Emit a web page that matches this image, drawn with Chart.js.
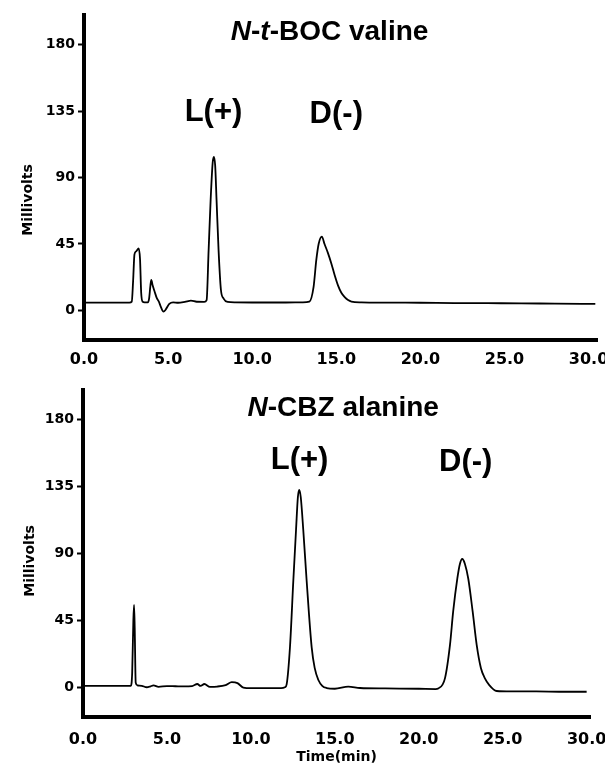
<!DOCTYPE html>
<html>
<head>
<meta charset="utf-8">
<script src="https://cdn.jsdelivr.net/npm/chart.js@4.4.1/dist/chart.umd.min.js"></script>
<style>
  html, body { margin: 0; padding: 0; background: #ffffff; }
  #wrap { position: relative; width: 605px; height: 768px; overflow: hidden; }
  .panel { position: absolute; left: 0; width: 605px; height: 384px; }
  #p1 { top: 0; }
  #p2 { top: 384px; }
</style>
</head>
<body>
<div id="wrap">
  <div class="panel" id="p1"><canvas id="c1" width="605" height="384"></canvas></div>
  <div class="panel" id="p2"><canvas id="c2" width="605" height="384"></canvas></div>
</div>
<script>
// ---------------- data ----------------
const xTicks = [0, 5, 10, 15, 20, 25, 30];
const yTicks = [0, 45, 90, 135, 180];

// N-t-BOC valine trace: retention time (min) and signal (mV)
const bocTime = [0.0, 1.0, 2.0, 2.7, 2.84, 2.92, 3.0, 3.1, 3.25, 3.33, 3.40, 3.48, 3.6, 3.8,
  3.87, 3.95, 4.0, 4.08, 4.2, 4.33, 4.45, 4.55, 4.73, 4.85, 5.07, 5.3, 5.6, 6.0, 6.36, 6.7,
  7.15, 7.29, 7.41, 7.53, 7.65, 7.72, 7.80, 7.88, 8.0, 8.14, 8.3, 8.54, 9.0, 10.0, 11.0, 12.0,
  13.0, 13.4, 13.65, 13.81, 13.95, 14.14, 14.3, 14.5, 14.7, 14.9, 15.1, 15.3, 15.5, 15.7, 15.9,
  16.5, 18.0, 20.0, 22.0, 24.0, 26.0, 28.0, 30.4];
const bocSignal = [5.3, 5.3, 5.3, 5.3, 6.0, 20, 38, 40, 42, 35, 12, 6, 5.5, 5.5,
  8, 17, 20.6, 17, 12.7, 8.3, 6, 3, -0.8, 0.5, 4.4, 5.5, 5.2, 5.8, 6.6, 5.9,
  5.8, 7, 41, 75, 100, 104, 98, 75, 41, 14, 8, 5.8, 5.5, 5.4, 5.4, 5.4,
  5.5, 6, 16, 34, 45, 50, 45, 39, 32, 24, 17, 12, 9, 7, 6,
  5.5, 5.3, 5.2, 5.0, 4.9, 4.8, 4.6, 4.4];

// N-CBZ alanine trace
const cbzTime = [0.0, 1.0, 2.0, 2.85, 2.93, 3.0, 3.04, 3.08, 3.14, 3.25, 3.5, 3.8, 4.0, 4.2,
  4.5, 5.0, 5.5, 6.0, 6.5, 6.81, 7.0, 7.23, 7.56, 8.0, 8.5, 8.86, 9.2, 9.55, 10.0, 11.0,
  11.8, 12.03, 12.13, 12.33, 12.53, 12.69, 12.8, 12.88, 12.97, 13.12, 13.32, 13.62, 13.8,
  14.02, 14.25, 14.51, 15.0, 15.8, 16.5, 18.0, 20.0, 21.0, 21.16, 21.56, 21.86, 22.05, 22.3,
  22.45, 22.59, 22.75, 22.95, 23.21, 23.45, 23.7, 23.94, 24.2, 24.64, 25.5, 27.0, 28.5, 30.0];
const cbzSignal = [1.0, 1.0, 1.0, 1.0, 10, 45, 55.4, 40, 3, 1.2, 1.0, 0, 0.5, 1.3,
  0.3, 0.8, 0.7, 0.6, 0.8, 2.2, 0.9, 2.2, 0.3, 0.5, 1.5, 3.4, 2.8, -0.2, -0.6, -0.6,
  -0.6, 0, 2, 27.3, 72.2, 106, 128, 132.8, 128, 106, 72, 27, 13,
  4.9, 1, -0.5, -1.0, 0.4, -0.5, -0.8, -1.0, -1.2, -0.8, 6, 28.5, 51, 73.4,
  83, 86.3, 83, 73, 51, 28.5, 13, 6, 1.5, -2.5, -2.8, -2.8, -3.0, -3.0];

// ---------------- helpers ----------------
Chart.defaults.font.family = '"DejaVu Sans", sans-serif';
Chart.defaults.color = '#000';

function pts(xs, ys) { return xs.map((v, i) => ({ x: v, y: ys[i] })); }

function makeTextPlugin(items) {
  return {
    id: 'textMarks',
    afterDraw(chart) {
      const ctx = chart.ctx;
      const xs = chart.scales.x, ys = chart.scales.y;
      items.forEach(item => {
        const px = item.px !== undefined ? item.px : xs.getPixelForValue(item.x);
        const py = ys.getPixelForValue(item.y);
        ctx.save();
        ctx.fillStyle = '#000';
        ctx.textBaseline = 'middle';
        ctx.textAlign = 'left';
        ctx.translate(px, py);
        if (item.rotate) ctx.rotate(item.rotate);
        const widths = [];
        let total = 0;
        item.segs.forEach(s => {
          ctx.font = (s.italic ? 'italic ' : '') + item.font;
          const w = ctx.measureText(s.t).width;
          widths.push(w);
          total += w;
        });
        let cx = -total / 2;
        item.segs.forEach((s, i) => {
          ctx.font = (s.italic ? 'italic ' : '') + item.font;
          ctx.fillText(s.t, cx, 0);
          cx += widths[i];
        });
        ctx.restore();
      });
    }
  };
}

function buildChart(canvasId, xs, ys, cfg) {
  return new Chart(document.getElementById(canvasId), {
    type: 'line',
    data: {
      datasets: [{
        data: pts(xs, ys),
        borderColor: '#000',
        borderWidth: 1.8,
        pointRadius: 0,
        fill: false,
        cubicInterpolationMode: 'monotone'
      }]
    },
    options: {
      responsive: false,
      animation: false,
      events: [],
      layout: { padding: { left: 0, right: cfg.padRight, top: cfg.padTop, bottom: 0 } },
      plugins: { legend: { display: false }, tooltip: { enabled: false } },
      scales: {
        x: {
          type: 'linear',
          min: 0,
          max: cfg.xMax,
          afterBuildTicks: s => { s.ticks = xTicks.map(v => ({ value: v })); },
          afterFit: s => { s.height = cfg.xHeight; s.paddingLeft = 0; s.paddingRight = 0; },
          grid: { display: false, drawTicks: false },
          border: { display: true, color: '#000', width: 4 },
          ticks: {
            padding: cfg.xLabelPad,
            maxRotation: 0,
            autoSkip: false,
            color: '#000',
            font: { family: '"DejaVu Sans"', weight: 'bold', size: 16 },
            callback: v => Number(v).toFixed(1)
          },
          title: cfg.xTitle ? {
            display: true,
            text: cfg.xTitle,
            color: '#000',
            font: { family: '"DejaVu Sans"', weight: 'bold', size: 14 },
            padding: { top: 0, bottom: 2 }
          } : { display: false }
        },
        y: {
          type: 'linear',
          min: -20,
          max: 200,
          afterBuildTicks: s => { s.ticks = yTicks.map(v => ({ value: v })); },
          afterFit: s => { s.width = cfg.yWidth; s.paddingTop = 0; s.paddingBottom = 0; },
          grid: { display: true, drawOnChartArea: false, drawTicks: true, tickLength: 6, tickWidth: 2, tickColor: '#000' },
          border: { display: true, color: '#000', width: 4 },
          ticks: {
            padding: 3,
            autoSkip: false,
            color: '#000',
            font: { family: '"DejaVu Sans"', weight: 'bold', size: 14 },
            callback: v => String(v)
          }
        }
      }
    },
    plugins: [makeTextPlugin(cfg.texts)]
  });
}

const titleFont = 'bold 28px "Liberation Sans", Arial, sans-serif';
const peakFont = 'bold 31px "Liberation Sans", Arial, sans-serif';
const axisFont = 'bold 14px "DejaVu Sans", sans-serif';

buildChart('c1', bocTime, bocSignal, {
  xMax: 30.5, padRight: 8, padTop: 15, xHeight: 44, yWidth: 84, xLabelPad: 10,
  texts: [
    { x: 14.6, y: 188.6, font: titleFont, segs: [{ t: 'N', italic: true }, { t: '-' }, { t: 't', italic: true }, { t: '-BOC valine' }] },
    { x: 7.7, y: 133.7, font: peakFont, segs: [{ t: 'L(+)' }] },
    { x: 15.0, y: 133.0, font: peakFont, segs: [{ t: 'D(-)' }] },
    { px: 28, y: 74.8, rotate: -Math.PI / 2, font: axisFont, segs: [{ t: 'Millivolts' }] }
  ]
});

buildChart('c2', cbzTime, cbzSignal, {
  xMax: 30.2, padRight: 15, padTop: 6, xHeight: 51, yWidth: 83, xLabelPad: 13,
  xTitle: 'Time(min)',
  texts: [
    { x: 15.5, y: 188.0, font: titleFont, segs: [{ t: 'N', italic: true }, { t: '-CBZ alanine' }] },
    { x: 12.9, y: 152.3, font: peakFont, segs: [{ t: 'L(+)' }] },
    { x: 22.8, y: 151.0, font: peakFont, segs: [{ t: 'D(-)' }] },
    { px: 30, y: 85.0, rotate: -Math.PI / 2, font: axisFont, segs: [{ t: 'Millivolts' }] }
  ]
});
</script>
</body>
</html>
